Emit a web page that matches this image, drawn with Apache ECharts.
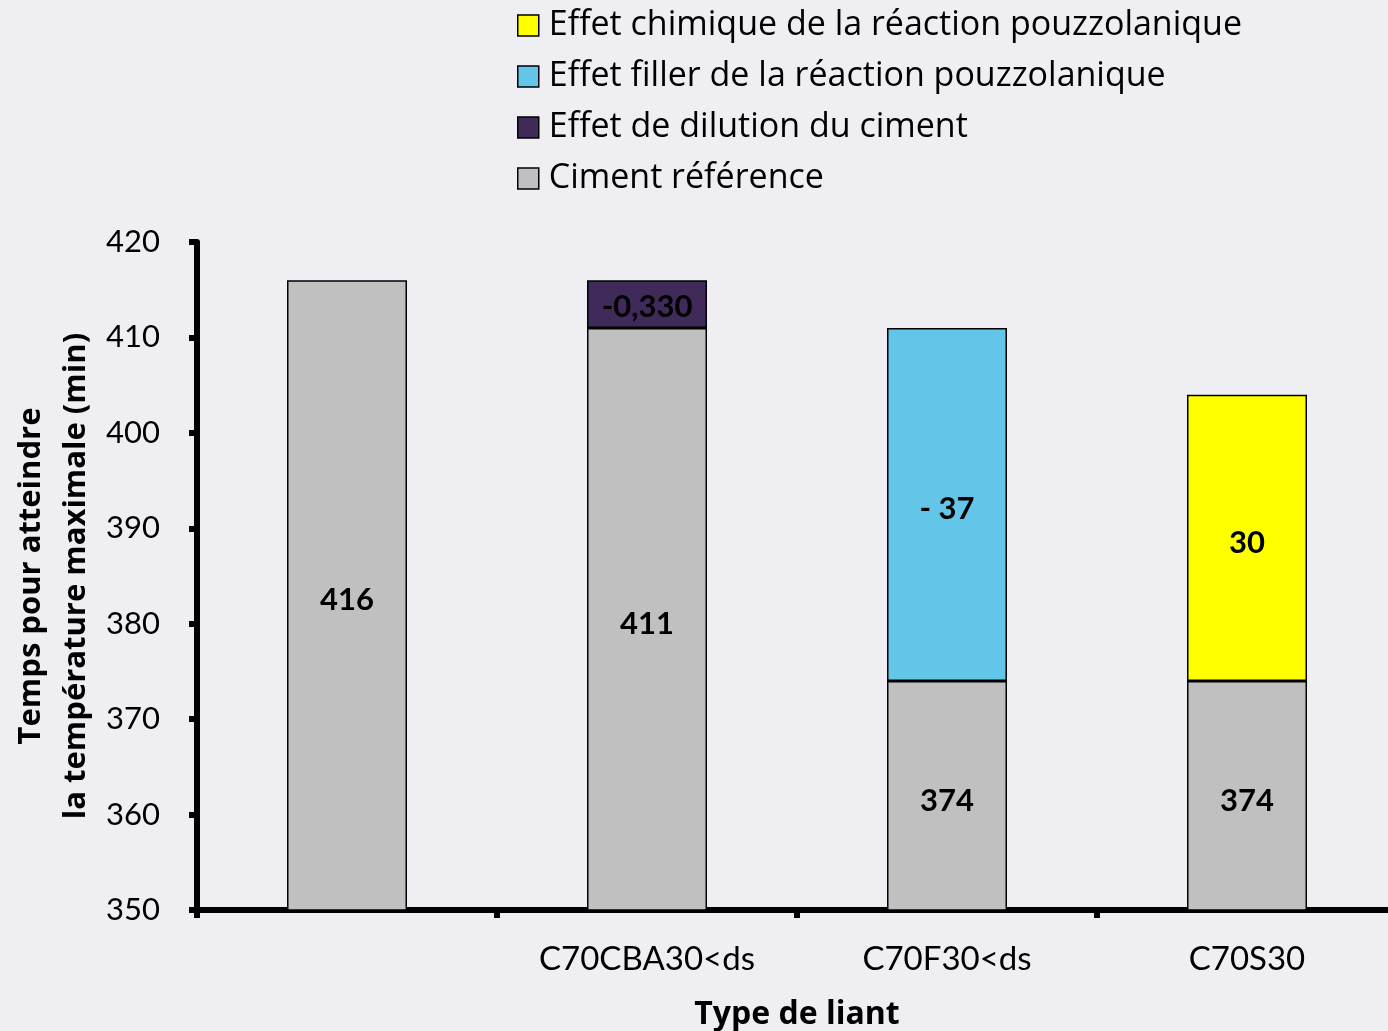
<!DOCTYPE html>
<html>
<head>
<meta charset="utf-8">
<script src="https://cdn.jsdelivr.net/npm/echarts@6/dist/echarts.min.js"></script>
<style>
  html, body { margin: 0; padding: 0; background: #efeef3; }
  #chart { width: 1388px; height: 1031px; }
</style>
</head>
<body>
<div id="chart"></div>
<script>
// Binder types on the x axis (first column is the unlabelled reference)
const categories = ['', 'C70CBA30<ds', 'C70F30<ds', 'C70S30'];

// Time to reach maximum temperature (min), stacked contributions
const cimentReference = [416, 411, 374, 374];
const effetDilution   = [null, 5, null, null];
const effetFiller     = [null, null, 37, null];
const effetChimique   = [null, null, null, 30];

// Text printed inside the dilution segment
const dilutionLabels = ['', '-0,330', '', ''];

const yTicks = { min: 350, max: 420, interval: 10 };

const FONT = 'Lato, "Open Sans", sans-serif';
const WIDE = '"Open Sans", Lato, sans-serif';

const chart = echarts.init(document.getElementById('chart'));

const barBase = {
  type: 'bar',
  stack: 'total',
  barWidth: '40%',
  itemStyle: { borderColor: '#000', borderWidth: 1.5 },
  label: {
    show: true,
    position: 'inside',
    offset: [0, 5],
    color: '#000',
    fontFamily: FONT,
    fontWeight: 'bold',
    fontSize: 31
  }
};

chart.setOption({
  backgroundColor: '#efeef3',
  animation: false,
  legend: {
    orient: 'vertical',
    left: 517,
    top: 4,
    padding: 0,
    itemWidth: 21,
    itemHeight: 21,
    itemGap: 8,
    icon: 'rect',
    itemStyle: { borderColor: '#000', borderWidth: 1.5 },
    textStyle: { fontFamily: WIDE, fontSize: 34, color: '#000', lineHeight: 43, padding: [0, 0, 0, 5] },
    data: [
      'Effet chimique de la réaction pouzzolanique',
      'Effet filler de la réaction pouzzolanique',
      'Effet de dilution du ciment',
      'Ciment référence'
    ]
  },
  grid: { left: 197, top: 242, width: 1200, height: 668, containLabel: false, outerBoundsMode: 'none' },
  xAxis: {
    type: 'category',
    data: categories,
    name: 'Type de liant',
    nameLocation: 'middle',
    nameGap: 89,
    nameMoveOverlap: false,
    nameTextStyle: { fontFamily: WIDE, fontWeight: 'bold', fontSize: 32, color: '#000' },
    axisLine: { lineStyle: { color: '#000', width: 6 } },
    axisTick: { show: true, length: 8, lineStyle: { color: '#000', width: 6 } },
    axisLabel: { fontFamily: FONT, fontSize: 33, color: '#000', margin: 33 }
  },
  yAxis: {
    type: 'value',
    min: yTicks.min,
    max: yTicks.max,
    interval: yTicks.interval,
    name: 'Temps pour atteindre\nla température maximale (min)',
    nameLocation: 'middle',
    nameRotate: 90,
    nameGap: 98,
    nameMoveOverlap: false,
    nameTextStyle: { fontFamily: WIDE, fontWeight: 'bold', fontSize: 31, color: '#000', lineHeight: 45 },
    splitLine: { show: false },
    axisLine: { show: true, lineStyle: { color: '#000', width: 6 } },
    axisTick: { show: true, length: 8, lineStyle: { color: '#000', width: 6 } },
    axisLabel: { fontFamily: FONT, fontSize: 31, color: '#000', margin: 37 }
  },
  series: [
    Object.assign({}, barBase, {
      name: 'Ciment référence',
      data: cimentReference,
      itemStyle: Object.assign({}, barBase.itemStyle, { color: '#c0c0c0' })
    }),
    Object.assign({}, barBase, {
      name: 'Effet de dilution du ciment',
      data: effetDilution,
      itemStyle: Object.assign({}, barBase.itemStyle, { color: '#3f2a5a' }),
      label: Object.assign({}, barBase.label, {
        offset: [0, 3],
        formatter: p => dilutionLabels[p.dataIndex]
      })
    }),
    Object.assign({}, barBase, {
      name: 'Effet filler de la réaction pouzzolanique',
      data: effetFiller,
      itemStyle: Object.assign({}, barBase.itemStyle, { color: '#63c6e8' }),
      label: Object.assign({}, barBase.label, {
        formatter: p => '- ' + p.value
      })
    }),
    Object.assign({}, barBase, {
      name: 'Effet chimique de la réaction pouzzolanique',
      data: effetChimique,
      itemStyle: Object.assign({}, barBase.itemStyle, { color: '#ffff00' })
    })
  ]
});
</script>
</body>
</html>
